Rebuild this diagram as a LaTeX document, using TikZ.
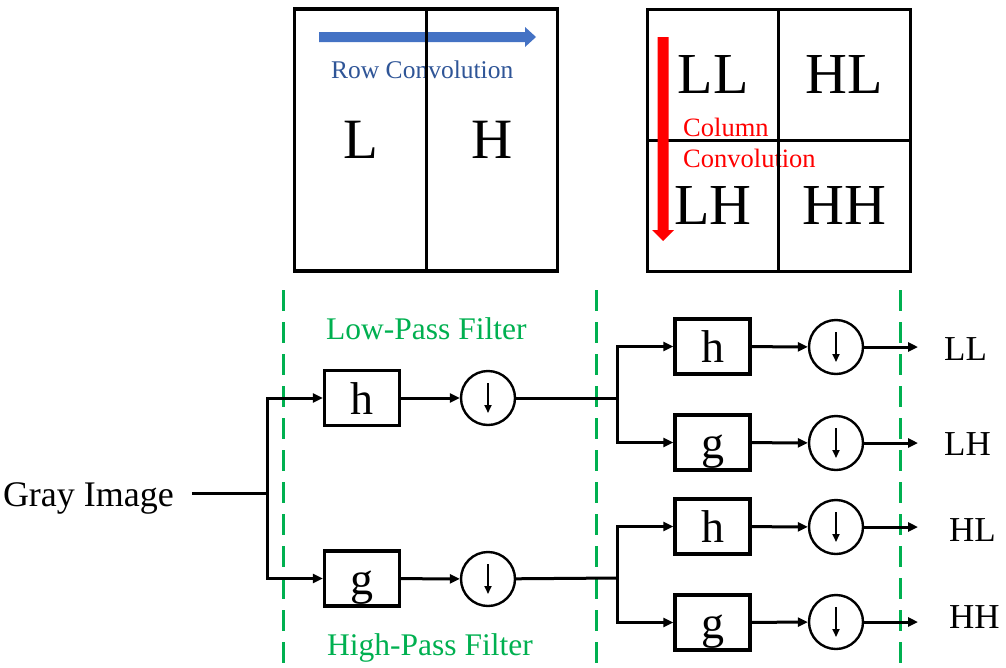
\documentclass[tikz,border=0pt]{standalone}
\usepackage{fontspec}
\setmainfont{Liberation Serif}
\usetikzlibrary{arrows.meta}
\definecolor{rowblue}{HTML}{4472C4}
\definecolor{rowtext}{HTML}{2F5597}
\definecolor{fgreen}{HTML}{00B050}
\newcommand{\fsz}[1]{\fontsize{#1}{#1}\selectfont}
\tikzset{
  cell/.style={draw=black, line width=3.2pt, minimum width=131.5pt, inner sep=0pt},
  fbox/.style={draw=black, line width=3.2pt, minimum width=75pt, minimum height=55pt,
    inner sep=0pt, text height=32pt, text depth=0pt, font=\fsz{46}},
  dsamp/.style={draw=black, line width=2.4pt, circle, minimum size=54pt, inner sep=0pt},
  conn/.style={line width=3pt, -{Triangle[length=10pt,width=9pt]}},
  plain/.style={line width=3pt},
  small/.style={line width=1.8pt, -{Triangle[length=8pt,width=7pt]}},
  guide/.style={draw=fgreen, line width=3pt, dash pattern=on 21pt off 11pt},
  lbl/.style={inner sep=0pt, anchor=base west},
}
\begin{document}
\begin{tikzpicture}[x=1pt, y=-1pt]
\useasboundingbox (0,0) rectangle (1006,667);
% ---------- top left: row convolution ----------
\fill[rowblue] (319,32) -- (525,32) -- (525,27) -- (536,37) -- (525,47) -- (525,42) -- (319,42) -- cycle;
\node[lbl, text=rowtext, font=\fsz{25.5}] (rowtxt) at (331,78) {Row Convolution};
\node[cell, minimum height=262pt, font=\fsz{57}] (cL) at (360.5,140) {L};
\node[cell, minimum height=262pt, font=\fsz{57}] (cH) at (492,140) {H};
% ---------- top right: column convolution ----------
\node[lbl, text=red, font=\fsz{26.5}] (coltxt1) at (683,136) {Column};
\node[lbl, text=red, font=\fsz{26.5}] (coltxt2) at (683,167) {Convolution};
\node[cell, minimum height=131pt, font=\fsz{58}] (cLL) at (713,75) {LL};
\node[cell, minimum height=131pt, font=\fsz{58}] (cHL) at (844.5,75) {HL};
\node[cell, minimum height=131pt, font=\fsz{58}] (cLH) at (713,206) {LH};
\node[cell, minimum height=131pt, font=\fsz{58}] (cHH) at (844.5,206) {HH};
\fill[red] (657.5,37) -- (668.5,37) -- (668.5,230) -- (674,230) -- (663,241) -- (652,230) -- (657.5,230) -- cycle;
% ---------- dashed guides ----------
\coordinate (g1t) at (283,290); \coordinate (g1b) at (283,667);
\coordinate (g2t) at (596,290); \coordinate (g2b) at (596,667);
\coordinate (g3t) at (900,290); \coordinate (g3b) at (900,667);
\draw[guide] (g1t) -- (g1b);
\draw[guide] (g2t) -- (g2b);
\draw[guide] (g3t) -- (g3b);
\node[lbl, text=fgreen, font=\fsz{31.5}] (lowtxt) at (326,339) {Low-Pass Filter};
\node[lbl, text=fgreen, font=\fsz{31.5}] (hightxt) at (327,655) {High-Pass Filter};
% ---------- first stage ----------
\node[inner sep=0pt, outer xsep=18pt, anchor=base west, font=\fsz{36}] (gray) at (-15,506) {Gray Image};
\coordinate (s0) at (267,493);
\node[fbox] (hA) at (362,398) {h};
\node[fbox] (gA) at (362,578.5) {g};
\node[dsamp] (dA) at (488,398) {};
\node[dsamp] (dB) at (488,579) {};
\draw[plain] (s0 -| gray.east) -- (s0);
\draw[conn] (s0) |- (hA);
\draw[conn] (s0) |- (gA);
\draw[conn] (hA) -- (dA);
\draw[conn] (gA) -- (dB);
% ---------- second stage ----------
\coordinate (s1) at (617,398);
\coordinate (s2) at (617,578);
\node[fbox] (h1) at (712.5,346.5) {h};
\node[fbox] (g1) at (712.5,442.5) {g};
\node[fbox] (h2) at (712.5,526.5) {h};
\node[fbox] (g2) at (712.5,622.5) {g};
\node[dsamp] (c1) at (836,347) {};
\node[dsamp] (c2) at (836,443) {};
\node[dsamp] (c3) at (836,527) {};
\node[dsamp] (c4) at (836,622) {};
\draw[plain] (dA) -- (s1);
\draw[plain] (dB) -- (s2);
\draw[conn] (s1) |- (h1);
\draw[conn] (s1) |- (g1);
\draw[conn] (s2) |- (h2);
\draw[conn] (s2) |- (g2);
\draw[conn] (h1) -- (c1);
\draw[conn] (g1) -- (c2);
\draw[conn] (h2) -- (c3);
\draw[conn] (g2) -- (c4);
% down-sampling arrows
\foreach \n in {dA,dB,c1,c2,c3,c4}
  \draw[small] ([yshift=15pt]\n.center) -- ([yshift=-15pt]\n.center);
% outputs
\node[lbl, font=\fsz{35}] (oLL) at (944,360) {LL};
\node[lbl, font=\fsz{35}] (oLH) at (944,455) {LH};
\node[lbl, font=\fsz{35}] (oHL) at (949,541) {HL};
\node[lbl, font=\fsz{35}] (oHH) at (949,628) {HH};
\coordinate (e1) at (918,347);
\coordinate (e2) at (918,443);
\coordinate (e3) at (918,527);
\coordinate (e4) at (918,622);
\draw[conn] (c1) -- (e1);
\draw[conn] (c2) -- (e2);
\draw[conn] (c3) -- (e3);
\draw[conn] (c4) -- (e4);
\end{tikzpicture}
\end{document}
